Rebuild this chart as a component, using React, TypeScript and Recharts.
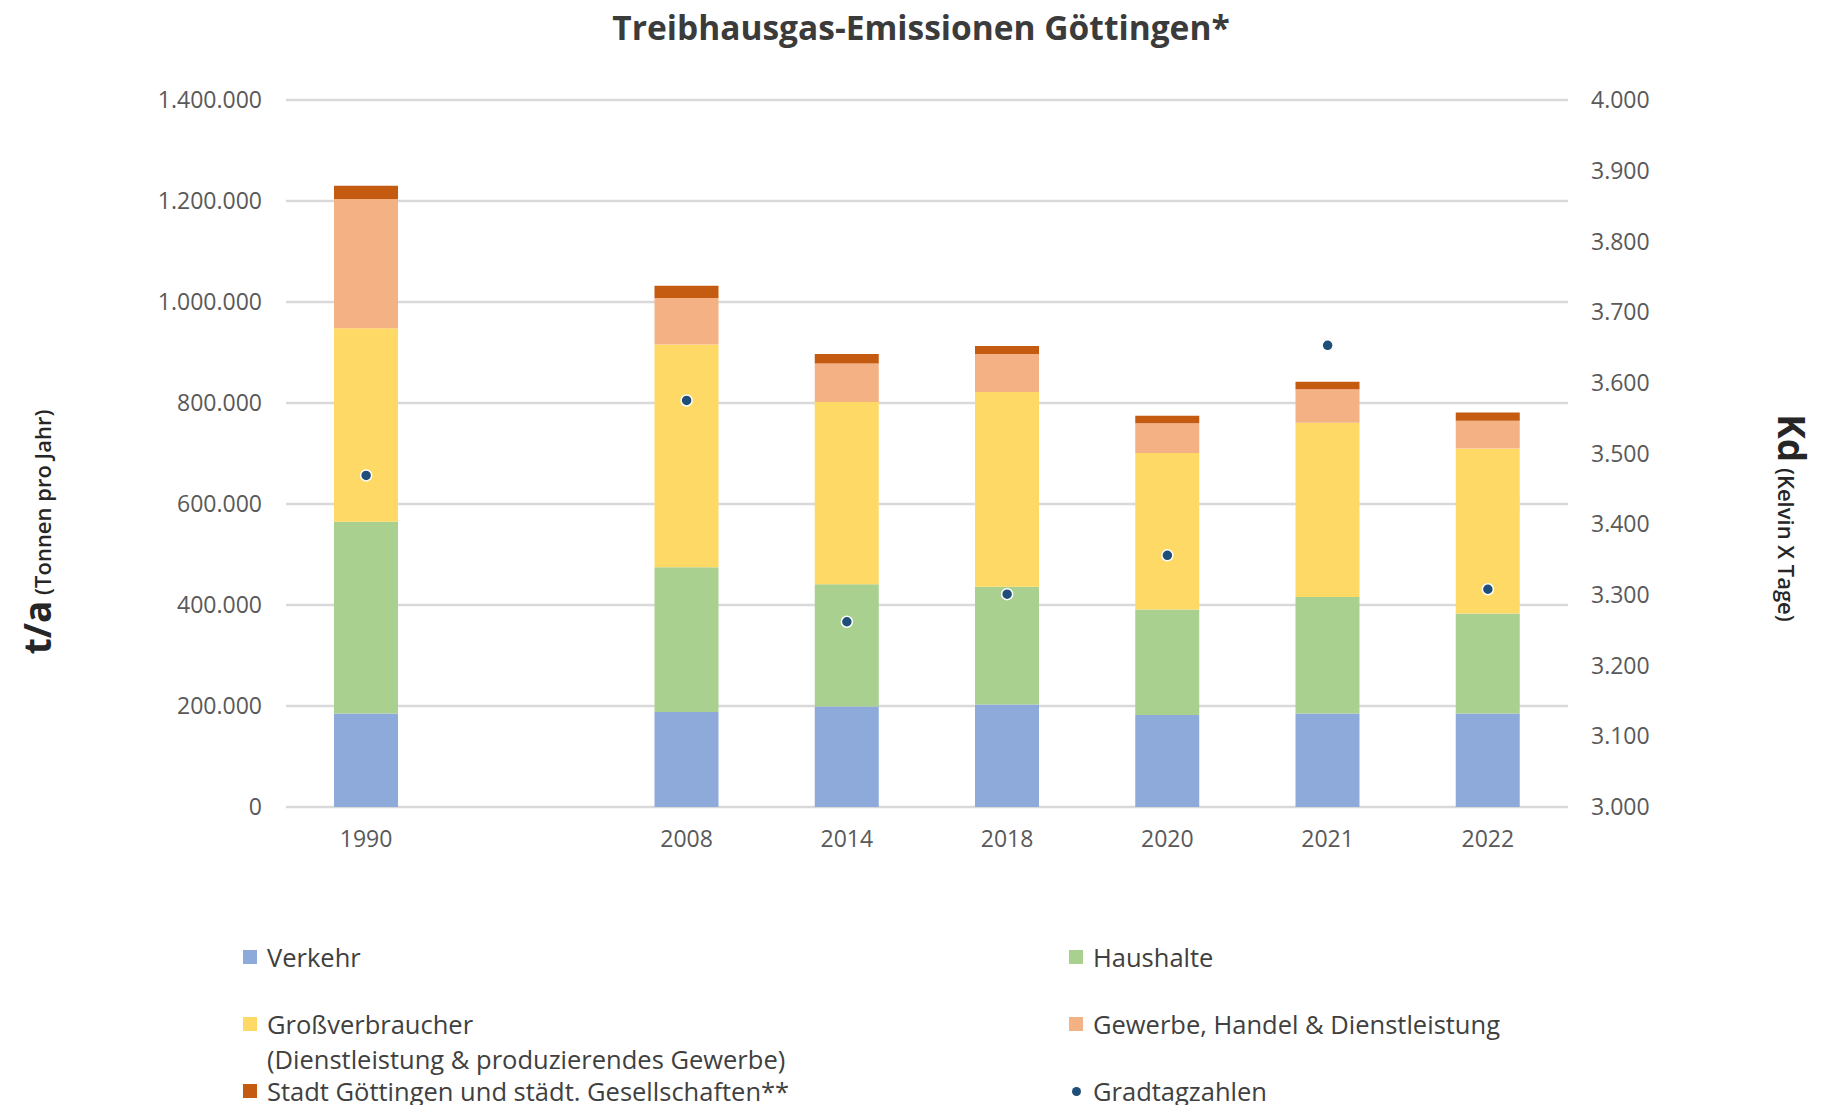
import React from 'react';
import { ComposedChart, Bar, Line, XAxis, YAxis, CartesianGrid, Legend } from 'recharts';

const years = ['1990', '', '2008', '2014', '2018', '2020', '2021', '2022'];
const verkehr = [185000, null, 188000, 199000, 203000, 182000, 185000, 185000];
const haushalte = [380000, null, 287000, 242000, 233000, 209000, 231000, 198000];
const grossverbraucher = [383000, null, 441000, 361000, 386000, 310000, 345000, 327000];
const gewerbe = [256000, null, 92000, 76000, 75000, 59000, 66000, 55000];
const stadt = [26000, null, 24000, 19000, 16000, 15000, 15000, 16000];
const gradtag = [3469, null, 3575, 3262, 3301, 3356, 3653, 3308];

const leftTicks = [0, 200000, 400000, 600000, 800000, 1000000, 1200000, 1400000];
const rightTicks = [3000, 3100, 3200, 3300, 3400, 3500, 3600, 3700, 3800, 3900, 4000];

const COLORS = {
  verkehr: '#8eaadb',
  haushalte: '#a9d08e',
  gross: '#ffd966',
  gewerbe: '#f4b183',
  stadt: '#c55a11',
  dot: '#1f4e79',
};

const data = years.map((y, i) => ({
  year: y,
  verkehr: verkehr[i],
  haushalte: haushalte[i],
  gross: grossverbraucher[i],
  gewerbe: gewerbe[i],
  stadt: stadt[i],
  kd: gradtag[i],
}));

const fmt = (v: number) => String(v).replace(/\B(?=(\d{3})+(?!\d))/g, '.');

const FONT = '"Open Sans", sans-serif';
const TICK = { fill: '#595959', fontSize: 23, fontFamily: FONT };

const legendItems = [
  { label: 'Verkehr', color: COLORS.verkehr, x: 243, y: 957, type: 'square' },
  { label: 'Haushalte', color: COLORS.haushalte, x: 1069, y: 957, type: 'square' },
  { label: 'Großverbraucher', sub: '(Dienstleistung & produzierendes Gewerbe)', color: COLORS.gross, x: 243, y: 1024, type: 'square' },
  { label: 'Gewerbe, Handel & Dienstleistung', color: COLORS.gewerbe, x: 1069, y: 1024, type: 'square' },
  { label: 'Stadt Göttingen und städt. Gesellschaften**', color: COLORS.stadt, x: 243, y: 1091, type: 'square' },
  { label: 'Gradtagzahlen', color: COLORS.dot, x: 1069, y: 1091, type: 'dot' },
];

const renderLegend = () => (
  <div style={{ position: 'relative', width: 1822, height: 1105, fontFamily: FONT, color: '#404040' }}>
    {legendItems.map((it) => (
      <React.Fragment key={it.label}>
        {it.type === 'square' ? (
          <div style={{ position: 'absolute', left: it.x, top: it.y - 7, width: 14, height: 14, background: it.color }} />
        ) : (
          <div style={{ position: 'absolute', left: it.x + 3, top: it.y - 4, width: 9, height: 9, borderRadius: 5, background: it.color }} />
        )}
        <div style={{ position: 'absolute', left: it.x + 24, top: it.y - 17, height: 34, lineHeight: '34px', fontSize: 25.5, whiteSpace: 'nowrap' }}>
          {it.label}
        </div>
        {it.sub ? (
          <div style={{ position: 'absolute', left: it.x + 24, top: it.y + 18, height: 34, lineHeight: '34px', fontSize: 25.5, whiteSpace: 'nowrap' }}>
            {it.sub}
          </div>
        ) : null}
      </React.Fragment>
    ))}
  </div>
);

const LeftLabel = () => (
  <text x={51} y={532} transform="rotate(-90, 51, 532)" textAnchor="middle" fill="#262626" fontFamily={FONT}>
    <tspan fontSize={37} fontWeight={700}>t/a</tspan>
    <tspan fontSize={22} fontWeight={600}> (Tonnen pro Jahr)</tspan>
  </text>
);

const RightLabel = () => (
  <text x={1778} y={518} transform="rotate(90, 1778, 518)" textAnchor="middle" fill="#262626" fontFamily={FONT}>
    <tspan fontSize={37} fontWeight={700}>Kd</tspan>
    <tspan fontSize={22} fontWeight={600}> (Kelvin X Tage)</tspan>
  </text>
);

export default function App() {
  return (
    <div style={{ position: 'absolute', left: 0, top: 0, width: 1822, height: 1105, background: '#fff', fontFamily: FONT }}>
      <div
        style={{
          position: 'absolute',
          left: 0,
          top: 5,
          width: 1842,
          textAlign: 'center',
          fontSize: 33.5,
          fontWeight: 700,
          lineHeight: '44px',
          color: '#3b3b3b',
          zIndex: 2,
        }}
      >
        Treibhausgas-Emissionen Göttingen*
      </div>
      <ComposedChart
        width={1822}
        height={1105}
        data={data}
        margin={{ top: 100, right: 154, bottom: 238, left: 206 }}
      >
        <CartesianGrid yAxisId="left" vertical={false} stroke="#d9d9d9" strokeWidth={2.5} />
        <XAxis
          dataKey="year"
          type="category"
          tickLine={false}
          axisLine={false}
          tickSize={0}
          tickMargin={24}
          height={60}
          tick={TICK}
          interval={0}
        />
        <YAxis
          yAxisId="left"
          orientation="left"
          width={80}
          domain={[0, 1400000]}
          ticks={leftTicks}
          tickFormatter={fmt}
          tickLine={false}
          axisLine={false}
          tickSize={0}
          tickMargin={24}
          tick={TICK}
          label={{ content: LeftLabel }}
        />
        <YAxis
          yAxisId="right"
          orientation="right"
          width={100}
          domain={[3000, 4000]}
          ticks={rightTicks}
          tickFormatter={fmt}
          tickLine={false}
          axisLine={false}
          tickSize={0}
          tickMargin={23}
          tick={{ ...TICK, textAnchor: 'start' }}
          label={{ content: RightLabel }}
        />
        <Bar yAxisId="left" dataKey="verkehr" name="Verkehr" stackId="a" fill={COLORS.verkehr} barSize={64} isAnimationActive={false} />
        <Bar yAxisId="left" dataKey="haushalte" name="Haushalte" stackId="a" fill={COLORS.haushalte} barSize={64} isAnimationActive={false} />
        <Bar yAxisId="left" dataKey="gross" name="Großverbraucher" stackId="a" fill={COLORS.gross} barSize={64} isAnimationActive={false} />
        <Bar yAxisId="left" dataKey="gewerbe" name="Gewerbe, Handel & Dienstleistung" stackId="a" fill={COLORS.gewerbe} barSize={64} isAnimationActive={false} />
        <Bar yAxisId="left" dataKey="stadt" name="Stadt Göttingen und städt. Gesellschaften**" stackId="a" fill={COLORS.stadt} barSize={64} isAnimationActive={false} />
        <Line
          yAxisId="right"
          dataKey="kd"
          name="Gradtagzahlen"
          stroke="none"
          connectNulls={false}
          dot={{ r: 5.5, fill: COLORS.dot, stroke: '#ffffff', strokeWidth: 1.5 }}
          activeDot={false}
          isAnimationActive={false}
        />
        <Legend
          layout="horizontal"
          verticalAlign="middle"
          align="center"
          content={renderLegend}
          wrapperStyle={{ left: 0, top: 0, width: 1822, height: 1105, pointerEvents: 'none' }}
        />
      </ComposedChart>
    </div>
  );
}
